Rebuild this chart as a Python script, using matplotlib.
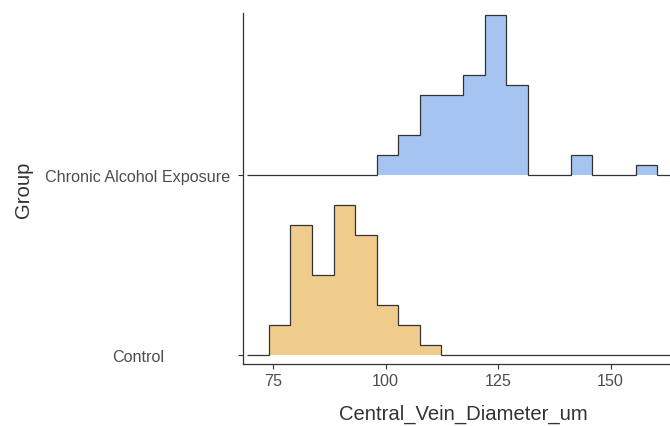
import matplotlib
matplotlib.use("Agg")
import matplotlib.pyplot as plt
import numpy as np

groups = ["Control", "Chronic Alcohol Exposure"]
bin_start = 74.1
bin_width = 4.79
control_counts = [3, 13, 8, 15, 12, 5, 3, 1, 0, 0, 0, 0, 0, 0, 0, 0, 0, 0]
alcohol_counts = [0, 0, 0, 0, 0, 2, 4, 8, 8, 10, 16, 9, 0, 0, 2, 0, 0, 1]
x_ticks = [75, 100, 125, 150]
fill_colors = ["#F0CC8C", "#A6C4F2"]
x_title = "Central_Vein_Diameter_um"
y_title = "Group"

plt.rcParams['font.family'] = ['Liberation Sans', 'DejaVu Sans']
W, H = 670, 427
fig = plt.figure(figsize=(W / 100, H / 100), dpi=100)
left, right, top, bottom = 243, 683, 14.3, 365
ax = fig.add_axes([left / W, 1 - bottom / H, (right - left) / W, (bottom - top) / H])

scale = 1 / 18
for i, (counts, color) in enumerate(zip([control_counts, alcohol_counts], fill_colors)):
    base = i + 1
    n = len(counts)
    edges = bin_start + bin_width * np.arange(-1, n + 2)
    vals = np.concatenate([[0], counts, [0]])
    y = base + vals * scale
    ax.stairs(y, edges, baseline=base, fill=True, color=color, lw=0, zorder=2)
    ax.stairs(y, edges, baseline=None, color='#333333', lw=0.9, zorder=3)

ax.set_xlim(68.35, 166.06)
ax.set_ylim(0.948, 2.897)
ax.set_xticks(x_ticks)
ax.set_xticklabels([str(t) for t in x_ticks])
ax.set_yticks([1, 2])
ax.set_yticklabels(groups)
for lab in ax.get_yticklabels():
    lab.set_ha('center')
for s in ['top', 'right']:
    ax.spines[s].set_visible(False)
for s in ['left', 'bottom']:
    ax.spines[s].set_color('#333333')
    ax.spines[s].set_linewidth(0.9)
ax.tick_params(length=3.6, width=0.8, color='#333333', labelcolor='#4D4D4D',
               labelsize=11.6)
ax.tick_params(axis='x', pad=3)
ax.tick_params(axis='y', pad=72)
ax.set_xlabel(x_title, fontsize=14.6, color='#333333')
ax.set_ylabel(y_title, fontsize=14.6, color='#333333')
ax.xaxis.set_label_coords(0.5, -0.113)
ax.yaxis.set_label_coords(-0.477, 0.5)

fig.savefig("out.png", dpi=100)
